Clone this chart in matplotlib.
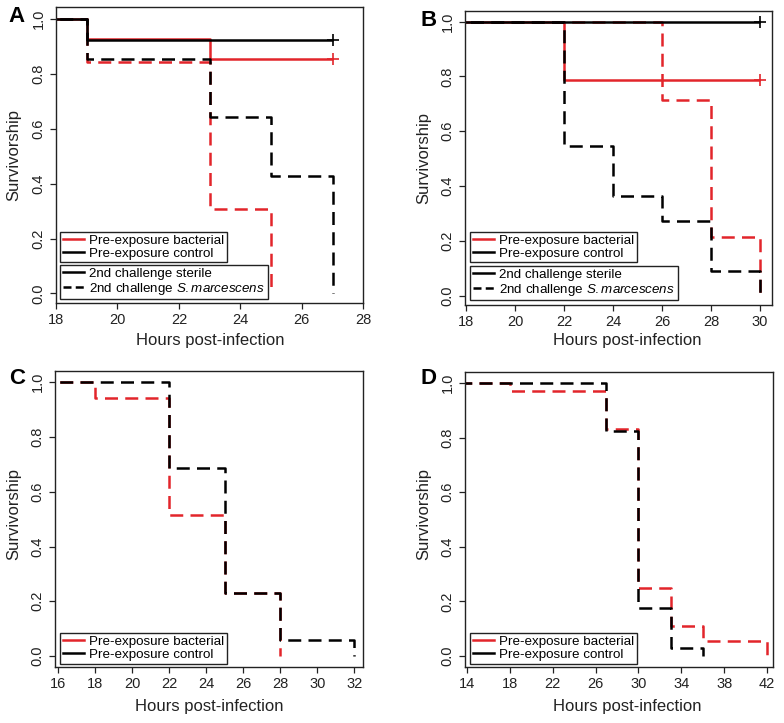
import matplotlib
matplotlib.use("Agg")
import matplotlib.pyplot as plt
from matplotlib.lines import Line2D

plt.rcParams['font.family'] = ['Liberation Sans', 'DejaVu Sans']
plt.rcParams['mathtext.fontset'] = 'custom'
plt.rcParams['mathtext.rm'] = 'Liberation Sans'
plt.rcParams['mathtext.it'] = 'Liberation Sans:italic'

# ---------------- data ----------------
# Panel A
a_bact_sterile_t = [0, 19, 23, 27]
a_bact_sterile_s = [1.0, 0.929, 0.857, 0.857]
a_ctrl_sterile_t = [0, 19, 27]
a_ctrl_sterile_s = [1.0, 0.923, 0.923]
a_bact_smarc_t = [0, 19, 23, 25]
a_bact_smarc_s = [1.0, 0.846, 0.308, 0.0]
a_ctrl_smarc_t = [0, 19, 23, 25, 27]
a_ctrl_smarc_s = [1.0, 0.857, 0.643, 0.429, 0.0]
a_xticks = [18, 20, 22, 24, 26, 28]

# Panel B
b_bact_sterile_t = [0, 22, 30]
b_bact_sterile_s = [1.0, 0.786, 0.786]
b_ctrl_sterile_t = [0, 30]
b_ctrl_sterile_s = [1.0, 1.0]
b_bact_smarc_t = [0, 26, 28, 30]
b_bact_smarc_s = [1.0, 0.714, 0.214, 0.0]
b_ctrl_smarc_t = [0, 22, 24, 26, 28, 30]
b_ctrl_smarc_s = [1.0, 0.545, 0.364, 0.273, 0.091, 0.0]
b_xticks = [18, 20, 22, 24, 26, 28, 30]

# Panel C
c_bact_t = [0, 18, 22, 25, 28]
c_bact_s = [1.0, 0.943, 0.514, 0.229, 0.0]
c_ctrl_t = [0, 22, 25, 28, 32]
c_ctrl_s = [1.0, 0.686, 0.229, 0.057, 0.0]
c_xticks = [16, 18, 20, 22, 24, 26, 28, 30, 32]

# Panel D
d_bact_t = [0, 18, 27, 30, 33, 36, 42]
d_bact_s = [1.0, 0.972, 0.833, 0.25, 0.111, 0.056, 0.0]
d_ctrl_t = [0, 27, 30, 33, 36]
d_ctrl_s = [1.0, 0.824, 0.176, 0.029, 0.0]
d_xticks = [14, 18, 22, 26, 30, 34, 38, 42]

yticks = [0.0, 0.2, 0.4, 0.6, 0.8, 1.0]
ytick_labels = ["0.0", "0.2", "0.4", "0.6", "0.8", "1.0"]

leg_groups = ["Pre-exposure bacterial", "Pre-exposure control"]
leg_challenge = ["2nd challenge sterile", r"2nd challenge $\mathit{S.marcescens}$"]

# ---------------- style ----------------
W, H = 784, 723
RED = "#e2252b"
BLACK = "#000000"
LW = 1.8
DASH = (0, (5.2, 2.9))


def px_rect(x0, y0, x1, y1):
    return [x0 / W, 1 - y1 / H, (x1 - x0) / W, (y1 - y0) / H]


def fpt(x, y):
    return (x / W, 1 - y / H)


fig = plt.figure(figsize=(W / 100, H / 100), dpi=100)


def setup(ax, xlim, ylim, xticks, letter, letter_xy, xlab_xy, ylab_xy):
    ax.set_xlim(*xlim)
    ax.set_ylim(*ylim)
    ax.set_xticks(xticks)
    ax.set_xticklabels([str(t) for t in xticks])
    ax.set_yticks(yticks)
    ax.set_yticklabels(ytick_labels, rotation=90, va='center')
    ax.tick_params(axis='both', direction='out', length=4.5, width=0.9,
                   labelsize=10.5, color='#222222', labelcolor='#222222')
    ax.tick_params(axis='x', pad=3)
    ax.tick_params(axis='y', pad=3)
    for sp in ax.spines.values():
        sp.set_linewidth(1.0)
        sp.set_color('#222222')
    fig.text(*fpt(*xlab_xy), "Hours post-infection", ha='center', va='center',
             fontsize=12, color='#222222')
    fig.text(*fpt(*ylab_xy), "Survivorship", ha='center', va='center',
             rotation=90, fontsize=12, color='#222222')
    fig.text(*fpt(*letter_xy), letter, ha='center', va='center',
             fontsize=16, fontweight='bold')


def kmline(ax, t, s, color, ls):
    ax.step(t, s, where='post', color=color, lw=LW, linestyle=ls,
            solid_capstyle='butt', dash_capstyle='butt')


def censor(ax, t, s, color):
    ax.plot([t[-1]], [s[-1]], marker='+', color=color, markersize=8,
            markeredgewidth=1.2, linestyle='none')


def legend(ax, labels, handles, top_left):
    leg = ax.legend(handles, labels, loc='upper left',
                    bbox_to_anchor=fpt(*top_left), bbox_transform=fig.transFigure,
                    borderaxespad=0, fontsize=9.6, frameon=True, fancybox=False,
                    edgecolor='#222222', framealpha=1, handlelength=1.6,
                    handletextpad=0.4, labelspacing=0.05, borderpad=0.2)
    leg.get_frame().set_linewidth(1.0)
    return leg


h_groups = [Line2D([], [], color=RED, lw=LW), Line2D([], [], color=BLACK, lw=LW)]
h_chal = [Line2D([], [], color=BLACK, lw=LW),
          Line2D([], [], color=BLACK, lw=LW, linestyle=(0, (3.2, 1.7)))]

# ---- Panel A ----
axA = fig.add_axes(px_rect(56, 6.7, 363.3, 302.7))
kmline(axA, a_bact_sterile_t, a_bact_sterile_s, RED, '-')
kmline(axA, a_bact_smarc_t, a_bact_smarc_s, RED, DASH)
kmline(axA, a_ctrl_smarc_t, a_ctrl_smarc_s, BLACK, DASH)
kmline(axA, a_ctrl_sterile_t, a_ctrl_sterile_s, BLACK, '-')
censor(axA, a_bact_sterile_t, a_bact_sterile_s, RED)
censor(axA, a_ctrl_sterile_t, a_ctrl_sterile_s, BLACK)
setup(axA, (18, 28), (-0.034, 1.046), a_xticks, "A", (16.7, 16), (210, 340), (13.5, 155))
l1 = legend(axA, leg_groups, h_groups, (60, 231.7))
axA.add_artist(l1)
legend(axA, leg_challenge, h_chal, (60, 265))

# ---- Panel B ----
axB = fig.add_axes(px_rect(465, 11, 772, 305))
kmline(axB, b_bact_sterile_t, b_bact_sterile_s, RED, '-')
kmline(axB, b_bact_smarc_t, b_bact_smarc_s, RED, DASH)
kmline(axB, b_ctrl_smarc_t, b_ctrl_smarc_s, BLACK, DASH)
kmline(axB, b_ctrl_sterile_t, b_ctrl_sterile_s, BLACK, '-')
censor(axB, b_bact_sterile_t, b_bact_sterile_s, RED)
censor(axB, b_ctrl_sterile_t, b_ctrl_sterile_s, BLACK)
setup(axB, (17.96, 30.49), (-0.034, 1.039), b_xticks, "B", (428.7, 20), (627, 340), (423.7, 158))
l1 = legend(axB, leg_groups, h_groups, (470, 231.7))
axB.add_artist(l1)
legend(axB, leg_challenge, h_chal, (470, 266))

# ---- Panel C ----
axC = fig.add_axes(px_rect(55, 371, 363.3, 666.7))
kmline(axC, c_bact_t, c_bact_s, RED, DASH)
kmline(axC, c_ctrl_t, c_ctrl_s, BLACK, DASH)
setup(axC, (15.82, 32.49), (-0.039, 1.041), c_xticks, "C", (16.7, 379), (209, 706.7), (13.5, 514))
legend(axC, leg_groups, h_groups, (60, 633))

# ---- Panel D ----
axD = fig.add_axes(px_rect(465, 371.7, 772.7, 666.7))
kmline(axD, d_bact_t, d_bact_s, RED, DASH)
kmline(axD, d_ctrl_t, d_ctrl_s, BLACK, DASH)
setup(axD, (13.81, 42.53), (-0.039, 1.041), d_xticks, "D", (428.7, 379), (627, 706), (423.7, 514))
legend(axD, leg_groups, h_groups, (470, 633))

fig.savefig("out.png", dpi=100)
